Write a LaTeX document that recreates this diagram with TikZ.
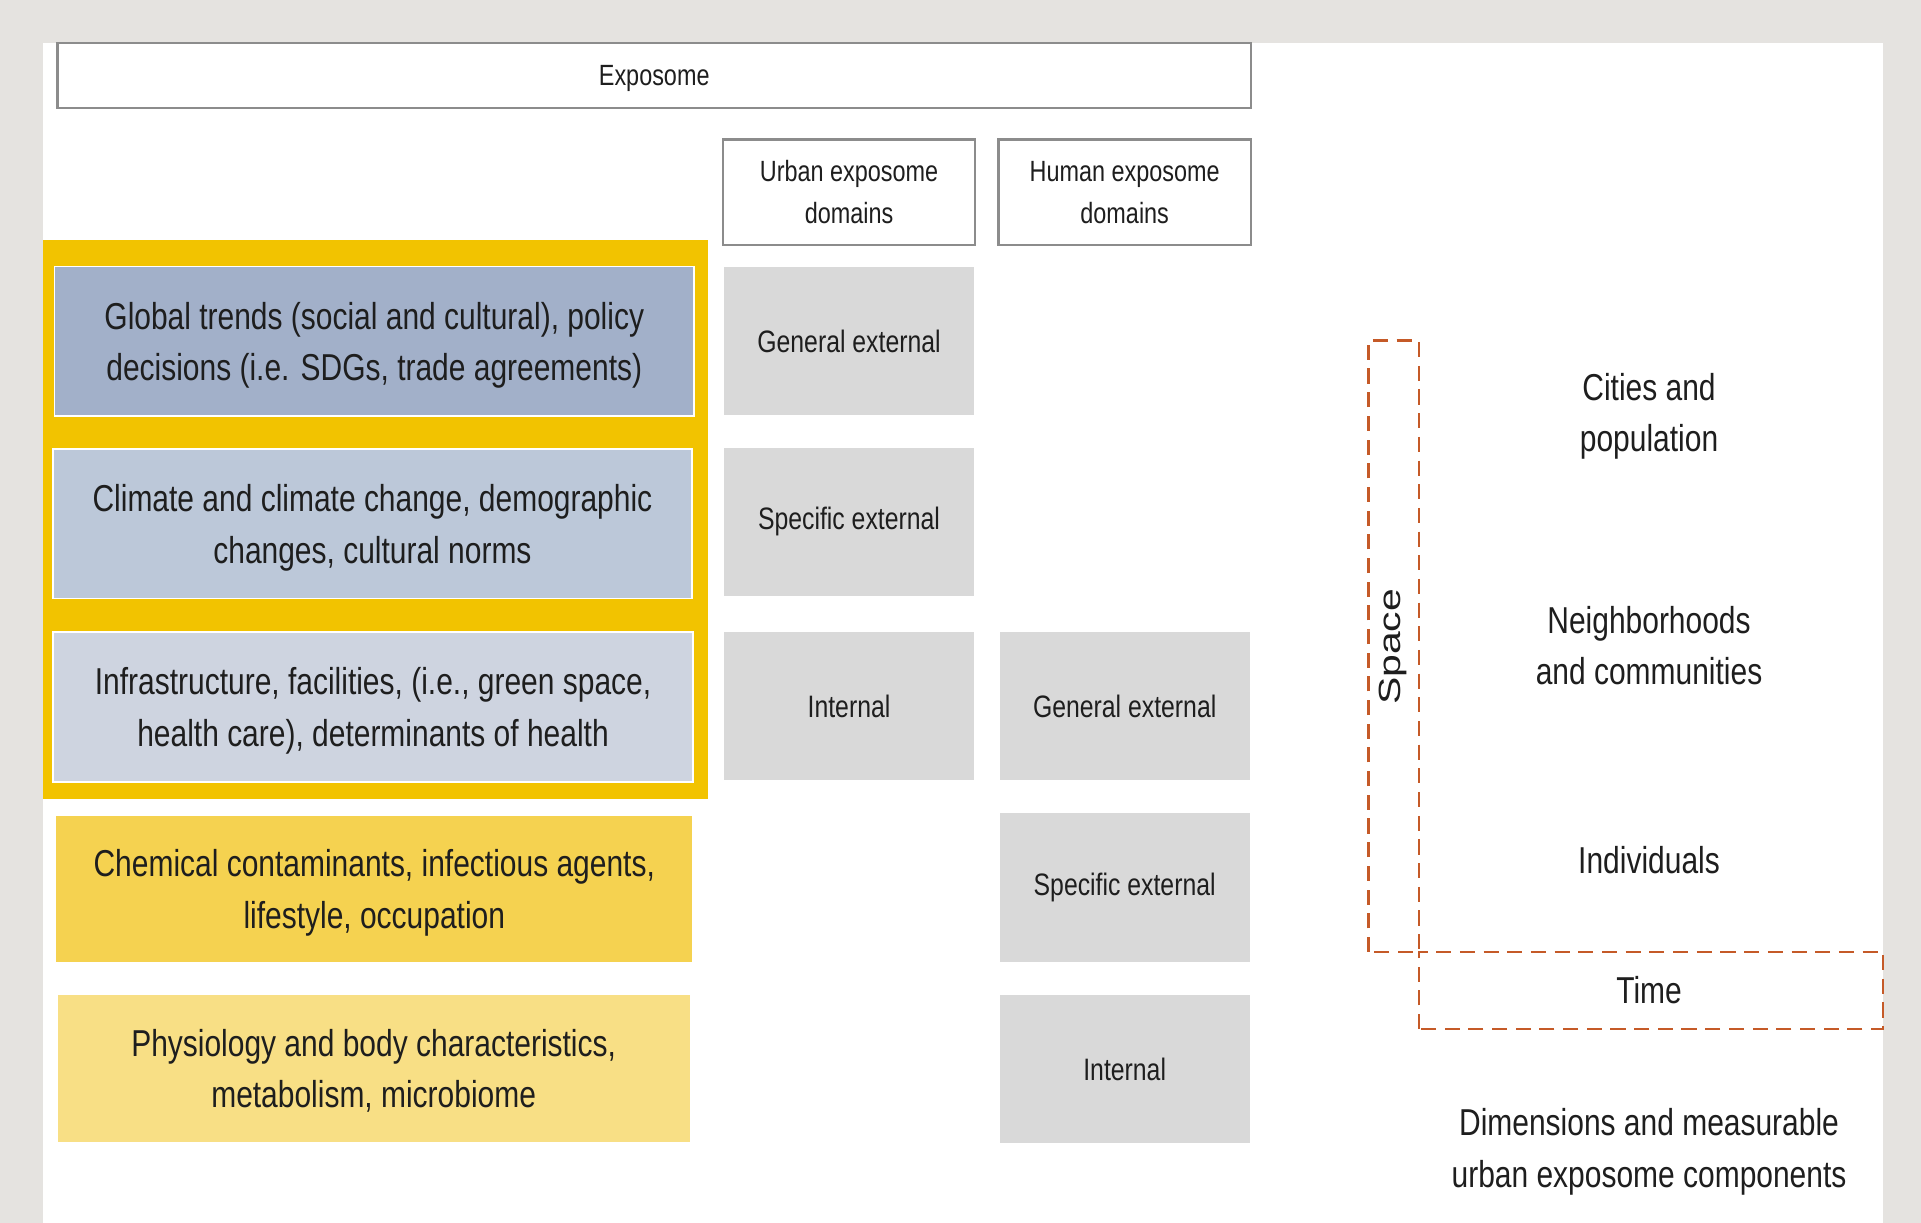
\documentclass[tikz,border=0pt]{standalone}
\usepackage{fontspec}
\setmainfont{Liberation Sans}[FakeStretch=0.8]
\newfontfamily\spacefont{Liberation Sans}
\usepackage{tikz}

\definecolor{pagegray}{RGB}{229,227,224}
\definecolor{linegray}{RGB}{140,140,140}
\definecolor{inkgray}{RGB}{30,30,30}
\definecolor{framegold}{RGB}{242,195,0}
\definecolor{trendA}{RGB}{162,176,201}
\definecolor{trendB}{RGB}{188,200,217}
\definecolor{trendC}{RGB}{206,212,224}
\definecolor{trendD}{RGB}{245,210,80}
\definecolor{trendE}{RGB}{248,223,133}
\definecolor{cellgray}{RGB}{217,217,217}
\definecolor{dimorange}{RGB}{197,90,40}

\newcommand{\txtbig}{\fontsize{17.4}{23.9}\selectfont}
\newcommand{\txthead}{\fontsize{13.6}{19.4}\selectfont}
\newcommand{\txtcell}{\fontsize{14.4}{19.4}\selectfont}

\begin{document}
\begin{tikzpicture}[
    every node/.style={text=inkgray, align=center},
    headbox/.style={draw=linegray, fill=white, line width=1.1pt, font=\txthead},
    trendbox/.style={draw=white, line width=0.8pt, minimum width=10.44cm, minimum height=2.44cm, text depth=0pt, font=\txtbig},
    cellbox/.style={fill=cellgray, minimum width=4.08cm, minimum height=2.42cm, font=\txtcell},
    dimtext/.style={font=\txtbig},
    dimline/.style={draw=dimorange, line width=1.1pt, dash pattern=on 7pt off 4pt}
    ]

    % page and panel
    \useasboundingbox (0,0) rectangle (31.36,19.96);
    \fill[pagegray] (0,0) rectangle (31.36,19.96);
    \fill[white] (0.70,0) rectangle (30.74,19.26);

    % headers
    \node[headbox, minimum width=19.48cm, minimum height=1.06cm, text depth=0pt] (expo) at (10.68,18.73) {Exposome};
    \node[headbox, minimum width=4.12cm, minimum height=1.72cm] (urban) at (13.86,16.82) {Urban exposome\\domains};
    \node[headbox, minimum width=4.12cm, minimum height=1.72cm] (human) at (18.36,16.82) {Human exposome\\domains};

    % gold frame round the first three rows
    \fill[framegold] (0.70,6.92) rectangle (11.56,16.04);

    \node[trendbox, fill=trendA] (global) at (6.11,14.39) {Global trends (social and cultural), policy\\decisions (i.e. SDGs, trade agreements)};
    \node[trendbox, fill=trendB] (climate) at (6.08,11.41) {Climate and climate change, demographic\\changes, cultural norms};
    \node[trendbox, fill=trendC] (infra) at (6.09,8.42) {Infrastructure, facilities, (i.e., green space,\\health care), determinants of health};
    \node[trendbox, draw=none, fill=trendD, minimum width=10.38cm, minimum height=2.38cm] (chem) at (6.11,5.45) {Chemical contaminants, infectious agents,\\lifestyle, occupation};
    \node[trendbox, draw=none, fill=trendE, minimum width=10.32cm, minimum height=2.40cm] (phys) at (6.10,2.52) {Physiology and body characteristics,\\metabolism, microbiome};

    % urban column
    \node[cellbox] (ugen) at (13.86,14.39) {General external};
    \node[cellbox] (uspec) at (13.86,11.44) {Specific external};
    \node[cellbox] (uint) at (13.86,8.43) {Internal};

    % human column
    \node[cellbox] (hgen) at (18.36,8.43) {General external};
    \node[cellbox] (hspec) at (18.36,5.47) {Specific external};
    \node[cellbox] (hint) at (18.36,2.51) {Internal};

    % dimensions
    \draw[dimline] (22.34,4.42) rectangle (23.16,14.40);
    \draw[dimline] (23.16,3.16) rectangle (30.74,4.42);
    \node[rotate=90, yscale=0.75, font=\spacefont\fontsize{19}{23}\selectfont] (space) at (22.74,9.40) {Space};

    \node[dimtext] (cities) at (26.92,13.16) {Cities and\\population};
    \node[dimtext] (hoods) at (26.92,9.42) {Neighborhoods\\and communities};
    \node[dimtext] (indiv) at (26.92,5.92) {Individuals};
    \node[dimtext] (time) at (26.92,3.80) {Time};
    \node[dimtext] (dims) at (26.92,1.16) {Dimensions and measurable\\urban exposome components};

\end{tikzpicture}
\end{document}
